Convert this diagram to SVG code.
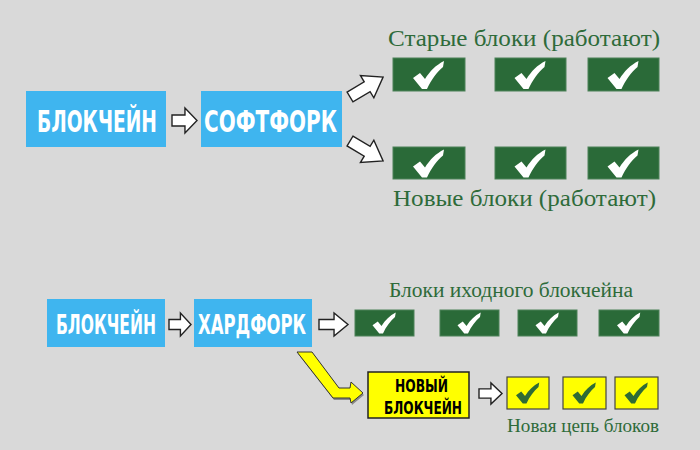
<svg xmlns="http://www.w3.org/2000/svg" xmlns:xlink="http://www.w3.org/1999/xlink" width="700" height="450" viewBox="0 0 700 450">
<defs>
<style>
.blue{fill:#3fb5ef;}
.wlab{fill:#ffffff;font-family:"DejaVu Sans Condensed","DejaVu Sans",sans-serif;font-weight:bold;text-anchor:middle;}
.blab{fill:#000000;font-family:"DejaVu Sans Condensed","DejaVu Sans",sans-serif;font-weight:bold;text-anchor:middle;font-size:18px;}
.gbox{fill:#2a6a38;stroke:#4d8259;stroke-width:1;}
.ybox{fill:#ffff00;stroke:#444;stroke-width:1.2;}
.cap{fill:#2e6b3a;font-family:"Liberation Serif",serif;}
.wchk{fill:#ffffff;}
.gchk{fill:#2f6b35;}
</style>
<path id="ba" d="M0,-5.5 L14,-5.5 L14,-12.5 L27,0 L14,12.5 L14,5.5 L0,5.5 Z" fill="#ffffff" stroke="#222" stroke-width="1.4" stroke-linejoin="miter" vector-effect="non-scaling-stroke"/>
<path id="chk" d="M-16,3 L-9,-2 L-4,4 C1,-4 7,-10 15,-14 L14,-8 C8,-3 2,5 -2,14 L-7,14 Z"/>
</defs>
<rect x="0" y="0" width="700" height="450" fill="#d9d9d9"/>

<g id="connectors">
<use xlink:href="#ba" transform="translate(172,120.5) scale(0.926,1)"/>
<use xlink:href="#ba" transform="translate(350,97) rotate(-31) scale(1.43,1.04)"/>
<use xlink:href="#ba" transform="translate(350,141) rotate(31) scale(1.43,1.04)"/>
<use xlink:href="#ba" transform="translate(169,324.5) scale(0.815,0.92)"/>
<use xlink:href="#ba" transform="translate(319,324.5) scale(1.074,0.92)"/>
<use xlink:href="#ba" transform="translate(479,393.5) scale(0.852,0.84)"/>
<polygon points="298,354 313,354 340,390 351,390 352,384 364,395 352,405 351,400 334,400" fill="#555" opacity="0.6"/>
<polygon points="297,352 312,352 339,388 350,388 351,382 363,393 351,403 350,398 333,398" fill="#ffff00" stroke="#333" stroke-width="1"/>
</g>

<g id="top-blockchain">
<rect class="blue" x="26" y="91" width="140" height="56"/>
<text class="wlab" x="97" y="132" font-size="31" textLength="120" lengthAdjust="spacingAndGlyphs">БЛОКЧЕЙН</text>
</g>
<g id="softfork">
<rect class="blue" x="201" y="91" width="141" height="56"/>
<text class="wlab" x="270.5" y="132" font-size="31" textLength="133" lengthAdjust="spacingAndGlyphs">СОФТФОРК</text>
</g>

<g id="old-blocks">
<text class="cap" x="388" y="46" font-size="24" textLength="272" lengthAdjust="spacingAndGlyphs">Старые блоки (работают)</text>
<rect class="gbox" x="393" y="58" width="72" height="33"/>
<rect class="gbox" x="495" y="58" width="71" height="33"/>
<rect class="gbox" x="588" y="58" width="71" height="33"/>
<use xlink:href="#chk" class="wchk" transform="translate(429,75)"/>
<use xlink:href="#chk" class="wchk" transform="translate(530.5,75)"/>
<use xlink:href="#chk" class="wchk" transform="translate(623.5,75)"/>
</g>

<g id="new-blocks">
<rect class="gbox" x="393" y="147" width="72" height="32"/>
<rect class="gbox" x="495" y="147" width="71" height="32"/>
<rect class="gbox" x="588" y="147" width="71" height="32"/>
<use xlink:href="#chk" class="wchk" transform="translate(429,163.5)"/>
<use xlink:href="#chk" class="wchk" transform="translate(530.5,163.5)"/>
<use xlink:href="#chk" class="wchk" transform="translate(623.5,163.5)"/>
<text class="cap" x="393" y="206" font-size="24" textLength="263" lengthAdjust="spacingAndGlyphs">Новые блоки (работают)</text>
</g>

<g id="bottom-blockchain">
<rect class="blue" x="47" y="299" width="118" height="48"/>
<text class="wlab" x="106" y="334" font-size="26" textLength="100" lengthAdjust="spacingAndGlyphs">БЛОКЧЕЙН</text>
</g>
<g id="hardfork">
<rect class="blue" x="194" y="299" width="118" height="48"/>
<text class="wlab" x="252" y="334" font-size="26" textLength="108" lengthAdjust="spacingAndGlyphs">ХАРДФОРК</text>
</g>

<g id="original-chain">
<text class="cap" x="389" y="297" font-size="20" textLength="244" lengthAdjust="spacingAndGlyphs">Блоки иходного блокчейна</text>
<rect class="gbox" x="355" y="310" width="59" height="26"/>
<rect class="gbox" x="440" y="310" width="59" height="26"/>
<rect class="gbox" x="518" y="310" width="59" height="26"/>
<rect class="gbox" x="599" y="310" width="60" height="26"/>
<use xlink:href="#chk" class="wchk" transform="translate(384.5,323) scale(0.75)"/>
<use xlink:href="#chk" class="wchk" transform="translate(469.5,323) scale(0.75)"/>
<use xlink:href="#chk" class="wchk" transform="translate(547.5,323) scale(0.75)"/>
<use xlink:href="#chk" class="wchk" transform="translate(629,323) scale(0.75)"/>
</g>

<g id="new-blockchain">
<rect x="368" y="372" width="101" height="46" fill="#ffff00" stroke="#222" stroke-width="1.5"/>
<text class="blab" x="421.5" y="392" textLength="53" lengthAdjust="spacingAndGlyphs">НОВЫЙ</text>
<text class="blab" x="423" y="414" textLength="78" lengthAdjust="spacingAndGlyphs">БЛОКЧЕЙН</text>
</g>

<g id="new-chain">
<rect class="ybox" x="507" y="377" width="42" height="32"/>
<rect class="ybox" x="563" y="377" width="43" height="32"/>
<rect class="ybox" x="615" y="377" width="43" height="32"/>
<use xlink:href="#chk" class="gchk" transform="translate(528,393) scale(0.75)"/>
<use xlink:href="#chk" class="gchk" transform="translate(584.5,393) scale(0.75)"/>
<use xlink:href="#chk" class="gchk" transform="translate(636.5,393) scale(0.75)"/>
<text class="cap" x="507" y="432" font-size="18" textLength="152" lengthAdjust="spacingAndGlyphs">Новая цепь блоков</text>
</g>
</svg>
